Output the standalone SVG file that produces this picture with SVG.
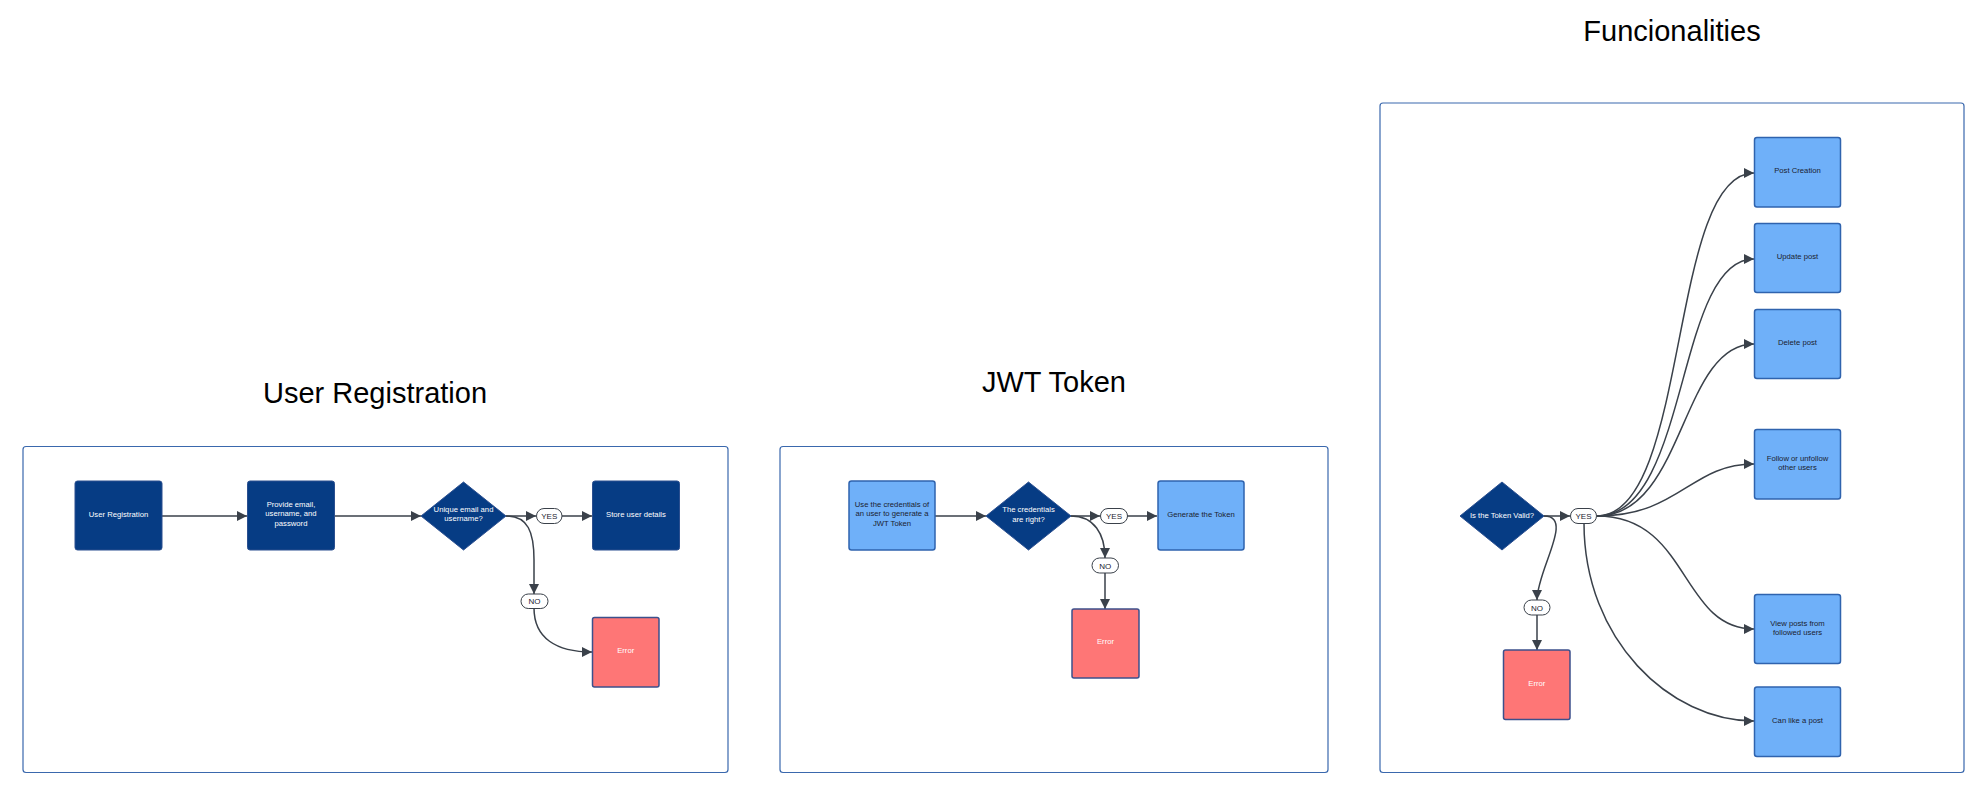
<svg xmlns="http://www.w3.org/2000/svg" width="1988" height="802" viewBox="0 0 1988 802">
<style>
.title{font-family:"Liberation Sans",Arial,sans-serif;font-size:29px;fill:#000;text-anchor:middle}
.frame{fill:#fff;stroke:#3a68ad;stroke-width:1.2}
.dark{fill:#063c84;stroke:#2b4f8f;stroke-width:1}
.light{fill:#6fb0f9;stroke:#2f63ae;stroke-width:1.5}
.err{fill:#fe7676;stroke:#3c508c;stroke-width:1.5}
.t{font-family:"Liberation Sans",Arial,sans-serif;font-size:7.7px;text-anchor:middle}
.w{fill:#fff}
.k{fill:#1b2230}
.pill{fill:#fff;stroke:#3a414a;stroke-width:1}
.pt{font-family:"Liberation Sans",Arial,sans-serif;font-size:8px;text-anchor:middle;fill:#1b2230}
.e{fill:none;stroke:#3a414a;stroke-width:1.5;marker-end:url(#arr)}
</style>
<defs>
<marker id="arr" viewBox="0 0 10 10" refX="10" refY="5" markerWidth="10" markerHeight="10" markerUnits="userSpaceOnUse" orient="auto">
<path d="M0,0 L10,5 L0,10 z" fill="#3a414a"/>
</marker>
</defs>
<rect width="1988" height="802" fill="#fff"/>

<g id="titles">
<text class="title" x="375" y="403">User Registration</text>
<text class="title" x="1054" y="392">JWT Token</text>
<text class="title" x="1672" y="41">Funcionalities</text>
</g>

<g id="frames">
<rect id="frame-registration" class="frame" x="23" y="446.5" width="705" height="326" rx="3"/>
<rect id="frame-jwt" class="frame" x="780" y="446.5" width="548" height="326" rx="3"/>
<rect id="frame-func" class="frame" x="1380" y="103" width="584" height="669.5" rx="3"/>
</g>

<g id="connectors">
<path class="e" d="M162,516 L247,516"/>
<path class="e" d="M335,516 L421,516"/>
<path class="e" d="M506,516 L536,516"/>
<path class="e" d="M562,516 L592,516"/>
<path class="e" d="M506,516 C528,516 534,532 534,560 L534,594"/>
<path class="e" d="M534,608 C534,638 556,652 592,652"/>
<path class="e" d="M935,516 L986,516"/>
<path class="e" d="M1071,516 L1100,516"/>
<path class="e" d="M1127,516 L1157,516"/>
<path class="e" d="M1071,516 C1094,516 1105,534 1105,558"/>
<path class="e" d="M1105,573 L1105,609"/>
<path class="e" d="M1544,516 L1570,516"/>
<path class="e" d="M1544,516 C1575,516 1537,570 1537,600"/>
<path class="e" d="M1537,615 L1537,650"/>
<path class="e" d="M1597,516 C1690,516 1668,173 1754,173"/>
<path class="e" d="M1597,516 C1690,516 1675,259 1754,259"/>
<path class="e" d="M1597,516 C1685,516 1680,344 1754,344"/>
<path class="e" d="M1597,516 C1680,516 1690,464 1754,464"/>
<path class="e" d="M1597,516 C1690,516 1680,629 1754,629"/>
<path class="e" d="M1584,523 C1584,640 1670,721 1754,721"/>
</g>

<g id="n-user-registration">
<rect class="dark" x="75" y="481" width="87" height="69" rx="2.5"/>
<text class="t w" x="118.5" y="516.5">User Registration</text>
</g>
<g id="n-provide">
<rect class="dark" x="247.5" y="481" width="87" height="69" rx="2.5"/>
<text class="t w" x="291" y="507">Provide email,</text>
<text class="t w" x="291" y="516.4">username, and</text>
<text class="t w" x="291" y="525.8">password</text>
</g>
<g id="n-unique">
<path class="dark" d="M463.5,482 L506,516 L463.5,550 L421,516 Z" stroke-linejoin="round"/>
<text class="t w" x="463.5" y="511.8">Unique email and</text>
<text class="t w" x="463.5" y="521.2">username?</text>
</g>
<g id="n-yes1">
<rect class="pill" x="536.5" y="508.5" width="25.5" height="15" rx="7.5"/>
<text class="pt" x="549.3" y="519">YES</text>
</g>
<g id="n-store">
<rect class="dark" x="592.5" y="481" width="87" height="69" rx="2.5"/>
<text class="t w" x="636" y="516.5">Store user details</text>
</g>
<g id="n-no1">
<rect class="pill" x="521" y="594" width="27" height="14.5" rx="7.25"/>
<text class="pt" x="534.5" y="604.3">NO</text>
</g>
<g id="n-error1">
<rect class="err" x="592.5" y="617.5" width="66.5" height="69.5" rx="2"/>
<text class="t w" x="625.7" y="653">Error</text>
</g>

<g id="n-use-credentials">
<rect class="light" x="849" y="481" width="86" height="69" rx="2.5"/>
<text class="t k" x="892" y="507">Use the credentials of</text>
<text class="t k" x="892" y="516.4">an user to generate a</text>
<text class="t k" x="892" y="525.8">JWT Token</text>
</g>
<g id="n-cred-right">
<path class="dark" d="M1028.5,482 L1071,516 L1028.5,550 L986,516 Z" stroke-linejoin="round"/>
<text class="t w" x="1028.5" y="512.3">The credentials</text>
<text class="t w" x="1028.5" y="521.7">are right?</text>
</g>
<g id="n-yes2">
<rect class="pill" x="1100.5" y="508.5" width="27" height="15" rx="7.5"/>
<text class="pt" x="1114" y="519">YES</text>
</g>
<g id="n-generate">
<rect class="light" x="1158" y="481" width="86" height="69" rx="2.5"/>
<text class="t k" x="1201" y="516.5">Generate the Token</text>
</g>
<g id="n-no2">
<rect class="pill" x="1092" y="558" width="26.5" height="15" rx="7.5"/>
<text class="pt" x="1105.2" y="568.5">NO</text>
</g>
<g id="n-error2">
<rect class="err" x="1072" y="609" width="67" height="69" rx="2"/>
<text class="t w" x="1105.5" y="643.8">Error</text>
</g>

<g id="n-token-valid">
<path class="dark" d="M1502,482 L1544,516 L1502,550 L1460,516 Z" stroke-linejoin="round"/>
<text class="t w" x="1502" y="518.3">Is the Token Valid?</text>
</g>
<g id="n-yes3">
<rect class="pill" x="1570.5" y="508.5" width="26" height="15" rx="7.5"/>
<text class="pt" x="1583.5" y="519">YES</text>
</g>
<g id="n-no3">
<rect class="pill" x="1524" y="600" width="26" height="15" rx="7.5"/>
<text class="pt" x="1537" y="610.5">NO</text>
</g>
<g id="n-error3">
<rect class="err" x="1503.5" y="650" width="66.5" height="69.5" rx="2"/>
<text class="t w" x="1536.8" y="685.5">Error</text>
</g>
<g id="n-post-creation">
<rect class="light" x="1754.5" y="137.5" width="86" height="69.5" rx="2.5"/>
<text class="t k" x="1797.5" y="172.8">Post Creation</text>
</g>
<g id="n-update-post">
<rect class="light" x="1754.5" y="223.5" width="86" height="69" rx="2.5"/>
<text class="t k" x="1797.5" y="258.8">Update post</text>
</g>
<g id="n-delete-post">
<rect class="light" x="1754.5" y="309.5" width="86" height="69" rx="2.5"/>
<text class="t k" x="1797.5" y="344.8">Delete post</text>
</g>
<g id="n-follow">
<rect class="light" x="1754.5" y="429.5" width="86" height="69.5" rx="2.5"/>
<text class="t k" x="1797.5" y="460.8">Follow or unfollow</text>
<text class="t k" x="1797.5" y="470.2">other users</text>
</g>
<g id="n-view-posts">
<rect class="light" x="1754.5" y="594.5" width="86" height="69" rx="2.5"/>
<text class="t k" x="1797.5" y="626">View posts from</text>
<text class="t k" x="1797.5" y="635.2">followed users</text>
</g>
<g id="n-like">
<rect class="light" x="1754.5" y="687" width="86" height="69.5" rx="2.5"/>
<text class="t k" x="1797.5" y="722.5">Can like a post</text>
</g>
</svg>
